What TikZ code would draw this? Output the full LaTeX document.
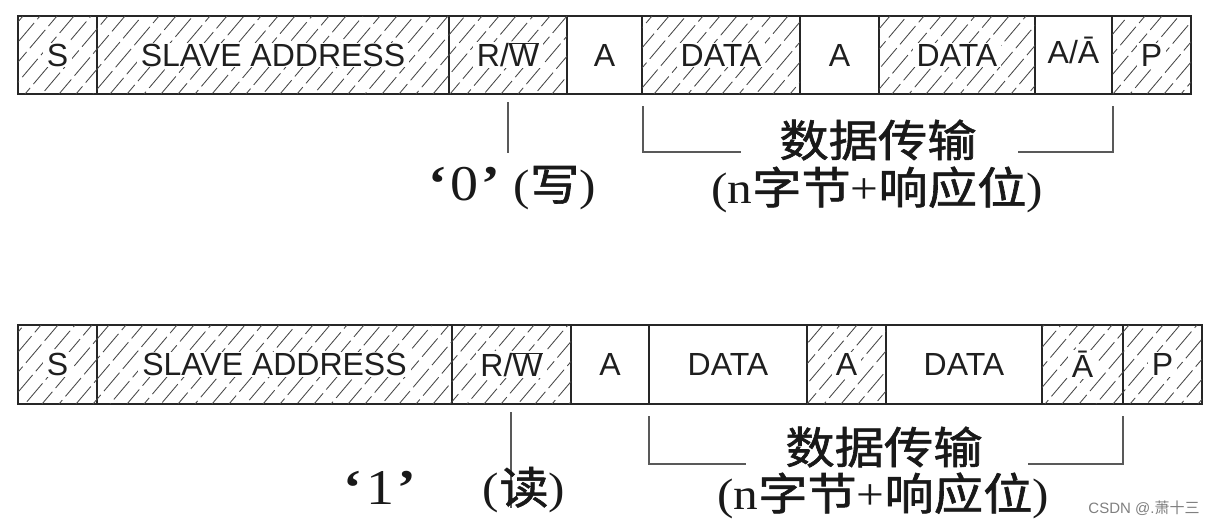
\documentclass[tikz,border=0pt]{standalone}
\usepackage{fontspec}
\setmainfont{Liberation Serif}
\setsansfont{Liberation Sans}
\newfontfamily\cjk{Noto Sans CJK SC}
\newfontfamily\cjkb{Noto Sans CJK SC}[FakeBold=1.3]
\newcommand{\hwide}[1]{\scalebox{1.12}[1]{#1}}
\newcommand{\qq}[1]{{\fontsize{50}{50}\selectfont{\bfseries ‘}\kern3pt #1\kern3pt{\bfseries ’}}}
\begin{document}
\begin{tikzpicture}[x=1pt,y=-1pt,
  cell/.style={draw=black!85, line width=1.8pt, inner sep=0pt, minimum height=78pt},
  cellb/.style={cell, minimum height=79pt},
  hatchline/.style={draw=black!72, line width=0.85pt, dash pattern=on 24pt off 5pt},
  boxtxt/.style={font=\sffamily\fontsize{32}{32}\selectfont, text=black!88, inner xsep=4pt, inner ysep=1pt},
  hbox/.style={boxtxt, fill=white},
  conn/.style={draw=black!65, line width=1.1pt},
  lab/.style={font=\fontsize{44}{44}\selectfont, text=black!90, inner sep=0pt}
]
\useasboundingbox (0,0) rectangle (1216,525);
\fill[white] (0,0) rectangle (1216,525);

% ---------- top row cells ----------
\node[cell, minimum width=79pt]  (s1)  at (57.5,55) {};
\node[cell, minimum width=352pt] (sa1) at (273,55) {};
\node[cell, minimum width=118pt] (rw1) at (508,55) {};
\node[cell, minimum width=75pt]  (a1)  at (604.5,55) {};
\node[cell, minimum width=158pt] (d1)  at (721,55) {};
\node[cell, minimum width=79pt]  (a2)  at (839.5,55) {};
\node[cell, minimum width=156pt] (d2)  at (957,55) {};
\node[cell, minimum width=77pt]  (aa1) at (1073.5,55) {};
\node[cell, minimum width=79pt]  (p1)  at (1151.5,55) {};

\begin{scope}
  \clip (18,16) rectangle (567,94) (642,16) rectangle (800,94)
        (879,16) rectangle (1035,94) (1112,16) rectangle (1191,94);
  \foreach \k in {0,...,75} {
    \pgfmathsetmacro\ph{mod(\k*9,29)}
    \draw[hatchline, dash phase=\ph pt] ({-60+\k*17},94) -- ++(66,-78);
  }
\end{scope}

\node[hbox] (ts1)  at (s1.center)  {S};
\node[hbox] (tsa1) at (sa1.center) {SLAVE ADDRESS};
\node[hbox] (trw1) at (rw1.center) {R/$\overline{\mbox{W}}$};
\node[boxtxt] (ta1) at (a1.center) {A};
\node[hbox] (td1)  at (d1.center)  {DATA};
\node[boxtxt] (ta2) at (a2.center) {A};
\node[hbox] (td2)  at (d2.center)  {DATA};
\node[boxtxt] (taa1) at ([yshift=5pt]aa1.center) {A/Ā};
\node[hbox] (tp1)  at (p1.center)  {P};

% ---------- bottom row cells ----------
\node[cellb, minimum width=79pt]  (s2)  at (57.5,364.5) {};
\node[cellb, minimum width=355pt] (sa2) at (274.5,364.5) {};
\node[cellb, minimum width=119pt] (rw2) at (511.5,364.5) {};
\node[cellb, minimum width=78pt]  (a3)  at (610,364.5) {};
\node[cellb, minimum width=158pt] (d3)  at (728,364.5) {};
\node[cellb, minimum width=79pt]  (a4)  at (846.5,364.5) {};
\node[cellb, minimum width=156pt] (d4)  at (964,364.5) {};
\node[cellb, minimum width=81pt]  (ab2) at (1082.5,364.5) {};
\node[cellb, minimum width=79pt]  (p2)  at (1162.5,364.5) {};

\begin{scope}
  \clip (18,325) rectangle (571,404) (807,325) rectangle (886,404)
        (1042,325) rectangle (1202,404);
  \foreach \k in {0,...,76} {
    \pgfmathsetmacro\ph{mod(\k*11,29)}
    \draw[hatchline, dash phase=\ph pt] ({-60+\k*17},404) -- ++(67,-79);
  }
\end{scope}

\node[hbox] (ts2)  at (s2.center)  {S};
\node[hbox] (tsa2) at (sa2.center) {SLAVE ADDRESS};
\node[hbox] (trw2) at (rw2.center) {R/$\overline{\mbox{W}}$};
\node[boxtxt] (ta3) at (a3.center) {A};
\node[boxtxt] (td3) at (d3.center) {DATA};
\node[hbox] (ta4)  at (a4.center)  {A};
\node[boxtxt] (td4) at (d4.center) {DATA};
\node[hbox] (tab2) at (ab2.center) {Ā};
\node[hbox] (tp2)  at (p2.center)  {P};

% ---------- top annotations ----------
\coordinate (tk1a) at (508,102);
\coordinate (tk1b) at (508,153);
\draw[conn] (tk1a) -- (tk1b);

\coordinate (bl1a) at (643,106);
\coordinate (bl1b) at (741,152);
\coordinate (br1a) at (1018,152);
\coordinate (br1b) at (1113,106);
\draw[conn] (bl1a) |- (bl1b);
\draw[conn] (br1a) -| (br1b);

\node[lab] (dt1) at (878,140) {\hwide{\cjkb 数据传输}};
\node[lab] (nb1) at (877,190) {\hwide{(n{\cjkb 字节}+{\cjkb 响应位})}};
\node[lab] (w0)  at (512,188) {\hwide{\qq{0}\kern12pt ({\cjkb 写})}};

% ---------- bottom annotations ----------
\coordinate (tk2a) at (511,412);
\coordinate (tk2b) at (511,508);
\draw[conn] (tk2a) -- (tk2b);

\coordinate (bl2a) at (649,416);
\coordinate (bl2b) at (746,464);
\coordinate (br2a) at (1028,464);
\coordinate (br2b) at (1123,416);
\draw[conn] (bl2a) |- (bl2b);
\draw[conn] (br2a) -| (br2b);

\node[lab] (dt2) at (884,447) {\hwide{\cjkb 数据传输}};
\node[lab] (nb2) at (883,496) {\hwide{(n{\cjkb 字节}+{\cjkb 响应位})}};
\node[lab] (r1a) at (380,488) {\hwide{\qq{1}}};
\node[lab] (r1b) at (524,490) {\hwide{({\cjkb 读})}};

\node[font=\sffamily\fontsize{15}{15}\selectfont, text=black!50, inner sep=0pt] (wm) at (1144,508) {CSDN @.{\cjk 萧十三}};
\end{tikzpicture}
\end{document}
